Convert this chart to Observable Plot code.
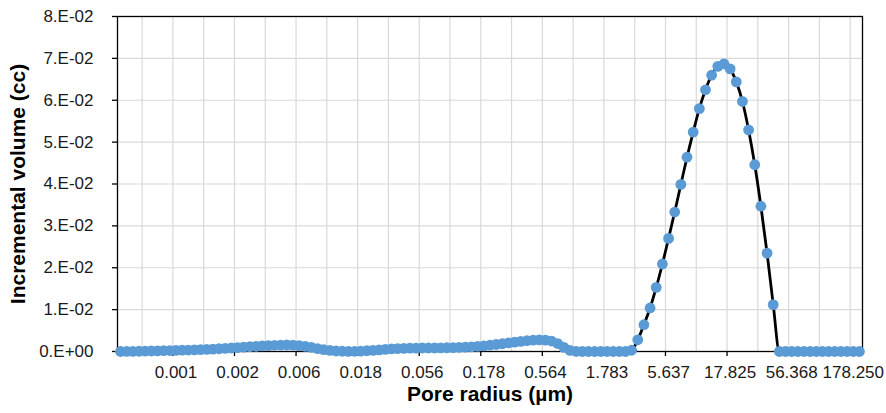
<!DOCTYPE html>
<html>
<head>
<meta charset="utf-8">
<script src="https://cdn.jsdelivr.net/npm/d3@7"></script>
<script src="https://cdn.jsdelivr.net/npm/@observablehq/plot@0.6"></script>
<style>
  html, body { margin: 0; padding: 0; background: #fff; }
</style>
</head>
<body>
<div id="chart"></div>
<script>
// Incremental volume (cc) for each pore-radius category (left to right)
const volume = [
  0, 0.00002, 0.00004, 0.00006, 0.00009, 0.00012, 0.00015, 0.00019, 0.00023, 0.00027,
  0.00031, 0.00035, 0.00040, 0.00045, 0.00051, 0.00058, 0.00066, 0.00075, 0.00084, 0.00094,
  0.00104, 0.00114, 0.00124, 0.00133, 0.00141, 0.00148, 0.00153, 0.00155, 0.00150, 0.00140,
  0.00122, 0.00098, 0.00070, 0.00045, 0.00025, 0.00012, 0.00006, 0.00004, 0.00005, 0.00010,
  0.00018, 0.00028, 0.00040, 0.00052, 0.00062, 0.00070, 0.00076, 0.00080, 0.00082, 0.00083,
  0.00083, 0.00084, 0.00086, 0.00089, 0.00093, 0.00098, 0.00104, 0.00112, 0.00122, 0.00135,
  0.00150, 0.00167, 0.00185, 0.00205, 0.00224, 0.00242, 0.00258, 0.00270, 0.00278, 0.00272,
  0.00250, 0.00190, 0.00100, 0.00025, 0.00002, 0, 0, 0, 0, 0,
  0, 0, 0, 0.0003, 0.0028, 0.0064, 0.0104, 0.0153, 0.0209, 0.0270,
  0.0333, 0.0399, 0.0464, 0.0524, 0.0580, 0.0625, 0.0660, 0.0681, 0.0687, 0.0675,
  0.0644, 0.0597, 0.0529, 0.0446, 0.0347, 0.0235, 0.0112, 0, 0, 0,
  0, 0, 0, 0, 0, 0, 0, 0, 0, 0,
  0
];

// Category labels shown on the x axis (every 10th category, starting at the 10th)
const xTickLabels = ["0.001", "0.002", "0.006", "0.018", "0.056", "0.178", "0.564",
                     "1.783", "5.637", "17.825", "56.368", "178.250"];
const yTicks = [0, 0.01, 0.02, 0.03, 0.04, 0.05, 0.06, 0.07, 0.08];
const yTickLabels = ["0.E+00", "1.E-02", "2.E-02", "3.E-02", "4.E-02",
                     "5.E-02", "6.E-02", "7.E-02", "8.E-02"];

const data = volume.map((v, i) => ({i, v}));
const n = volume.length;
const labelStep = 10, labelStart = 9;
const xTickIdx = xTickLabels.map((_, k) => labelStart + labelStep * k);
const xTickMarks = xTickIdx.map(i => i - 0.5);
const xGrid = d3.range(labelStart - 0.5 - 5, n, 5);

const font = "'Liberation Sans', Arial, sans-serif";

const chart = Plot.plot({
  width: 886,
  height: 413,
  marginLeft: 117,
  marginRight: 24,
  marginTop: 16,
  marginBottom: 62,
  style: {fontFamily: font, background: "#fff", color: "#000", overflow: "visible"},
  x: {domain: [-0.5, n - 0.5]},
  y: {domain: [0, 0.08]},
  marks: [
    Plot.gridY(yTicks, {stroke: "#d9d9d9", strokeOpacity: 1, strokeWidth: 1.2}),
    Plot.gridX(xGrid, {stroke: "#d9d9d9", strokeOpacity: 1, strokeWidth: 1.2}),
    Plot.frame({stroke: "#000", strokeWidth: 1.3}),
    Plot.axisY(yTicks, {
      tickSize: 5, tickPadding: 19, strokeWidth: 1.3,
      tickFormat: d => yTickLabels[Math.round(d * 100)],
      fontSize: 17, fill: "#1a1a1a", label: null
    }),
    Plot.axisX(xTickMarks, {tickSize: 5, strokeWidth: 1.3, tickFormat: () => "", label: null}),
    Plot.axisX(xTickIdx, {
      tickSize: 0, tickPadding: 14,
      tickFormat: i => xTickLabels[(i - labelStart) / labelStep],
      fontSize: 17, fill: "#1a1a1a", label: null
    }),
    Plot.line(data, {x: "i", y: "v", stroke: "#000", strokeWidth: 2.8, curve: "monotone-x"}),
    Plot.dot(data, {x: "i", y: "v", r: 5.4, fill: "#5B9BD5", stroke: "none"}),
    Plot.text(["Incremental volume (cc)"], {
      frameAnchor: "left", textAnchor: "middle", dx: -99, rotate: -90,
      fontSize: 21, fontWeight: "bold", fill: "#000"
    }),
    Plot.text(["Pore radius (µm)"], {
      frameAnchor: "bottom", textAnchor: "middle", dy: 49,
      fontSize: 21, fontWeight: "bold", fill: "#000"
    })
  ]
});

document.getElementById("chart").append(chart);
</script>
</body>
</html>
